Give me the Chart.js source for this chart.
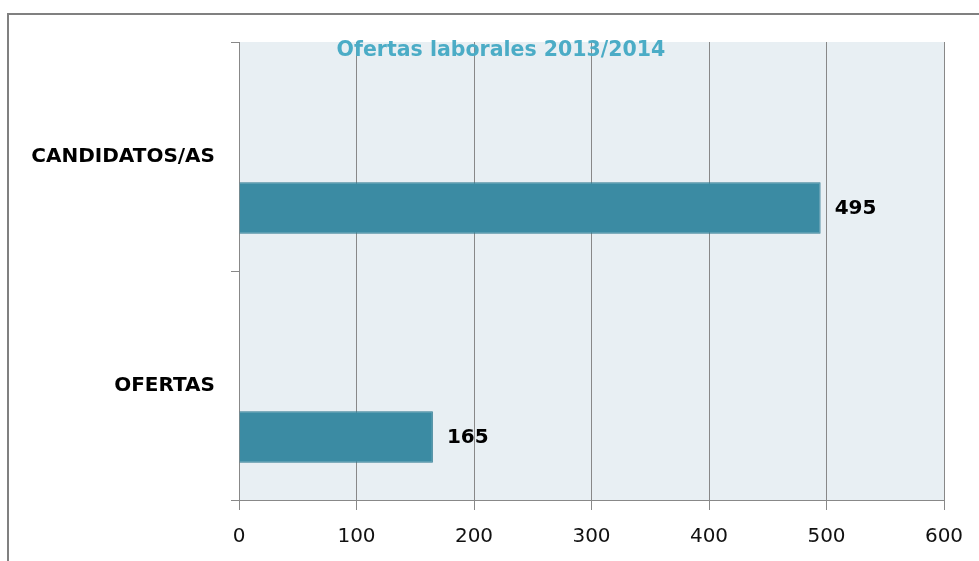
<!DOCTYPE html>
<html>
<head>
<meta charset="utf-8">
<script src="https://cdn.jsdelivr.net/npm/chart.js@4"></script>
<style>
  html, body { margin: 0; padding: 0; background: #fff; }
  #wrap { width: 979px; height: 561px; }
</style>
</head>
<body>
<div id="wrap"><canvas id="chart" width="979" height="561"></canvas></div>
<script>
const categories = ['CANDIDATOS/AS', 'OFERTAS'];
const values = [495, 165];
const emptySeries = [null, null];
const xTicks = [0, 100, 200, 300, 400, 500, 600];
const titleText = 'Ofertas laborales 2013/2014';

const FONT = "'DejaVu Sans', sans-serif";

// frame, plot background, overlaid title and value labels
const decor = {
  id: 'decor',
  beforeDraw(chart) {
    const { ctx, chartArea: a } = chart;
    ctx.save();
    ctx.strokeStyle = '#808080';
    ctx.lineWidth = 2;
    ctx.strokeRect(8, 14, 2000, 2000);
    ctx.fillStyle = '#E8EFF3';
    ctx.fillRect(a.left, a.top, a.right - a.left, a.bottom - a.top);
    ctx.restore();
  },
  afterDatasetsDraw(chart) {
    const { ctx } = chart;
    ctx.save();
    ctx.font = "bold 20px " + FONT;
    ctx.fillStyle = '#000';
    ctx.textBaseline = 'middle';
    chart.getDatasetMeta(1).data.forEach((bar, i) => {
      ctx.fillText(String(values[i]), bar.x + 14, bar.y + 1);
    });
    ctx.font = "bold 20.5px " + FONT;
    ctx.fillStyle = '#4BACC6';
    ctx.textAlign = 'center';
    ctx.fillText(titleText, 501, 51);
    ctx.restore();
  }
};

new Chart(document.getElementById('chart'), {
  type: 'bar',
  data: {
    labels: categories,
    datasets: [
      { label: 'vacío', data: emptySeries },
      {
        label: 'Total',
        data: values,
        backgroundColor: '#3B8BA3',
        borderColor: '#2E7A92',
        borderWidth: 1,
      },
    ],
  },
  options: {
    indexAxis: 'y',
    responsive: false,
    animation: false,
    categoryPercentage: 0.9,
    barPercentage: 0.5,
    layout: { padding: { top: 42, right: 35, left: 0, bottom: 0 } },
    plugins: {
      legend: { display: false },
      tooltip: { enabled: false },
    },
    scales: {
      x: {
        min: 0,
        max: 600,
        afterBuildTicks: (s) => { s.ticks = xTicks.map(v => ({ value: v })); },
        afterFit: (s) => { s.height = 61; },
        grid: { color: '#888', lineWidth: 1, tickLength: 10, drawTicks: true },
        border: { color: '#888', width: 1 },
        ticks: { color: '#111', font: { family: FONT, size: 20 }, padding: 15 },
      },
      y: {
        afterFit: (s) => { s.width = 239; },
        grid: { offset: true, drawOnChartArea: false, color: '#888', tickLength: 8 },
        border: { color: '#888', width: 1 },
        ticks: { color: '#000', font: { family: FONT, size: 20, weight: 'bold' }, padding: 16 },
      },
    },
  },
  plugins: [decor],
});
</script>
</body>
</html>
